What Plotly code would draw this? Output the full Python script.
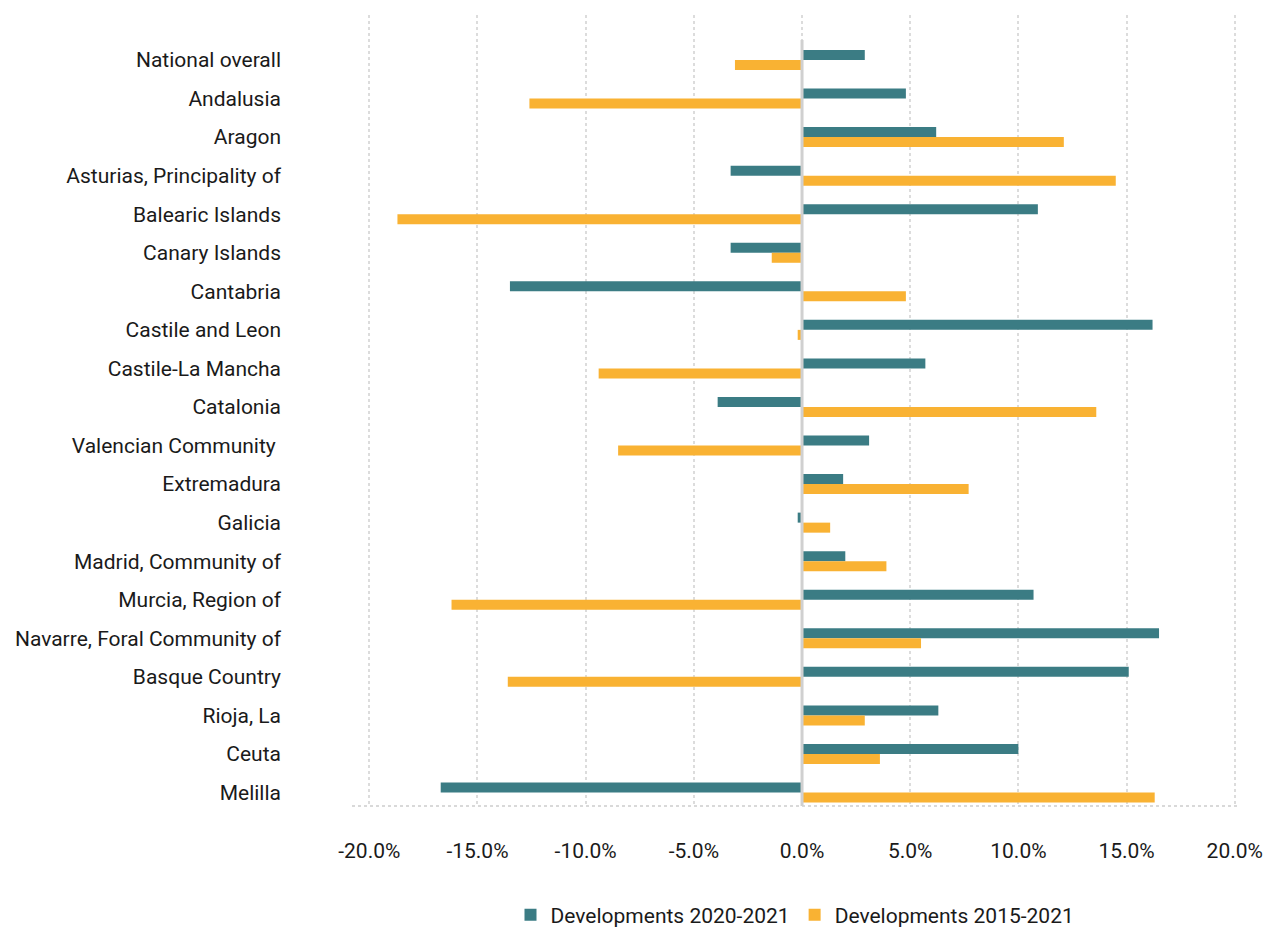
import plotly.graph_objects as go

regions = [
    "National overall", "Andalusia", "Aragon", "Asturias, Principality of",
    "Balearic Islands", "Canary Islands", "Cantabria", "Castile and Leon",
    "Castile-La Mancha", "Catalonia", "Valencian Community\u00a0", "Extremadura",
    "Galicia", "Madrid, Community of", "Murcia, Region of",
    "Navarre, Foral Community of", "Basque Country", "Rioja, La", "Ceuta", "Melilla",
]
dev_2020_2021 = [2.9, 4.8, 6.2, -3.3, 10.9, -3.3, -13.5, 16.2, 5.7, -3.9,
                 3.1, 1.9, -0.2, 2.0, 10.7, 16.5, 15.1, 6.3, 10.0, -16.7]
dev_2015_2021 = [-3.1, -12.6, 12.1, 14.5, -18.7, -1.4, 4.8, -0.2, -9.4, 13.6,
                 -8.5, 7.7, 1.3, 3.9, -16.2, 5.5, -13.6, 2.9, 3.6, 16.3]
tick_vals = [-20, -15, -10, -5, 0, 5, 10, 15, 20]
tick_text = ["-20.0%", "-15.0%", "-10.0%", "-5.0%", "0.0%", "5.0%", "10.0%", "15.0%", "20.0%"]

TEAL = "#3B7C84"
ORANGE = "#F9B233"
FONT = "Roboto"

fig = go.Figure()
fig.add_trace(go.Bar(y=regions, x=dev_2020_2021, orientation="h",
                     name="Developments 2020-2021", marker=dict(color=TEAL, line=dict(width=0))))
fig.add_trace(go.Bar(y=regions, x=dev_2015_2021, orientation="h",
                     name="Developments 2015-2021", marker=dict(color=ORANGE, line=dict(width=0))))

fig.update_layout(
    width=1267, height=928,
    margin=dict(l=352, r=29, t=15, b=122, autoexpand=False),
    paper_bgcolor="white", plot_bgcolor="white",
    barmode="group", bargap=0.48, bargroupgap=0,
    font=dict(family=FONT, size=21, color="#1a1a1a"),
    showlegend=True,
    legend=dict(orientation="h", x=0.5, xanchor="center", xref="paper",
                y=(928 - 915) / 928, yanchor="middle", yref="container",
                font=dict(size=21), traceorder="normal", itemwidth=30),
    xaxis=dict(range=[-20.8, 20.15], tickvals=tick_vals, ticktext=tick_text,
               showgrid=True, gridcolor="#dcdcdc", griddash="dot", gridwidth=1.5,
               zeroline=False, showline=False, ticks="", ticklabelstandoff=30,
               tickfont=dict(size=21), automargin=False),
    yaxis=dict(range=[19.35, -1.167], showgrid=False, zeroline=False, showline=False,
               ticks="", ticklabelstandoff=70, tickfont=dict(size=21), automargin=False),
    shapes=[
        dict(type="line", xref="paper", yref="paper", x0=0, x1=1, y0=0, y1=0,
             line=dict(color="#d9d9d9", width=2, dash="dot")),
        dict(type="line", xref="x", yref="y", x0=0, x1=0, y0=-0.52, y1=19.35,
             line=dict(color="#d0d0d0", width=3)),
    ],
)

fig.write_html("out.html")
